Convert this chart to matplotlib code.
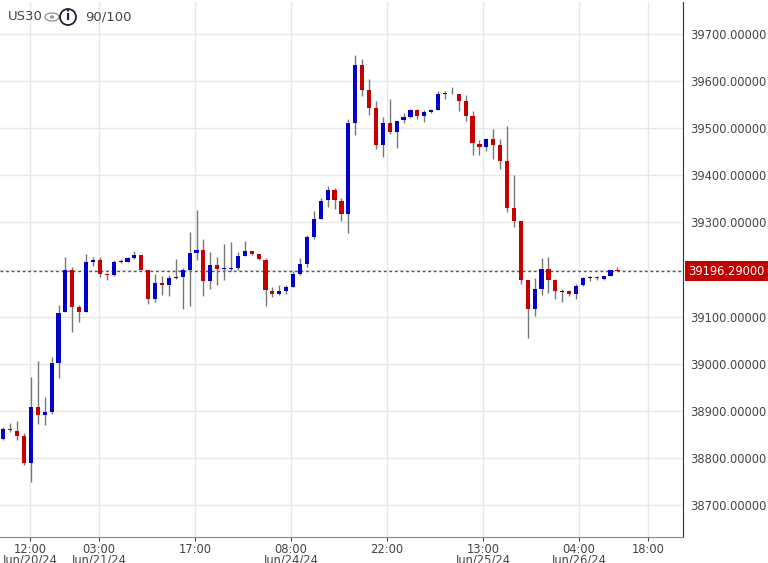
import matplotlib
matplotlib.use("Agg")
import matplotlib.pyplot as plt
from matplotlib.patches import Circle, Ellipse
import numpy as np

opens = [38841,38862,38858,38847,38789,38908,38892,38898,39001,39109,39199,39120,39109,39216,39220,39190,39189,39215,39216,39224,
         39230,39198,39137,39171,39168,39183,39185,39198,39236,39242,39176,39209,39202,39202,39204,39229,39239,39232,39220,39155,
         39148,39155,39163,39191,39211,39270,39308,39347,39368,39345,39318,39512,39635,39581,39542,39465,39511,39491,39518,39523,
         39539,39525,39535,39538,39573,39573,39572,39558,39525,39467,39460,39477,39465,39430,39330,39302,39178,39116,39159,39201,
         39177,39152,39154,39148,39167,39182,39185,39180,39187,39199]
highs = [38865,38875,38879,38853,38972,39006,38930,39014,39125,39227,39205,39124,39233,39226,39227,39192,39220,39222,39226,39239,
         39230,39199,39190,39187,39189,39223,39203,39279,39326,39264,39237,39227,39254,39258,39237,39260,39240,39232,39224,39162,
         39167,39167,39196,39224,39273,39324,39351,39377,39374,39351,39520,39656,39646,39604,39558,39523,39562,39516,39532,39541,
         39541,39539,39541,39578,39578,39588,39572,39571,39537,39476,39480,39499,39477,39504,39401,39302,39178,39182,39224,39227,
         39180,39158,39157,39169,39184,39187,39187,39187,39200,39206]
lows = [38839,38856,38837,38784,38749,38872,38870,38894,38970,39109,39067,39088,39109,39208,39184,39178,39187,39213,39215,39223,
        39198,39127,39130,39146,39143,39180,39117,39122,39220,39143,39158,39167,39178,39196,39199,39229,39231,39220,39122,39141,
        39146,39148,39163,39189,39205,39264,39308,39332,39328,39304,39278,39485,39568,39527,39456,39439,39488,39458,39511,39522,
        39520,39514,39533,39538,39563,39572,39536,39516,39444,39444,39451,39434,39414,39323,39291,39169,39055,39102,39145,39150,
        39137,39132,39143,39138,39164,39175,39178,39177,39186,39196]
closes = [38861,38860,38847,38789,38908,38892,38897,39001,39108,39199,39120,39109,39215,39220,39190,39188,39215,39217,39224,39230,
          39199,39137,39171,39167,39183,39185,39198,39236,39242,39176,39209,39202,39204,39204,39229,39239,39233,39222,39156,39148,
          39154,39162,39191,39211,39269,39308,39346,39368,39347,39318,39511,39635,39582,39543,39465,39511,39491,39516,39523,39539,
          39525,39535,39538,39573,39574,39572,39558,39525,39468,39460,39477,39465,39430,39330,39302,39178,39116,39159,39201,39178,
          39154,39154,39148,39166,39182,39185,39182,39187,39199,39196.29]
last_price = 39196.29
tick_pos = [3.9, 13.9, 27.8, 41.7, 55.6, 69.5, 83.4, 93.4]
tick_labels = ["12:00\nJun/20/24", "03:00\nJun/21/24", "17:00", "08:00\nJun/24/24",
               "22:00", "13:00\nJun/25/24", "04:00\nJun/26/24", "18:00"]
y_ticks = [38700, 38800, 38900, 39000, 39100, 39200, 39300, 39400, 39500, 39600, 39700]

BLUE = "#0000c8"
RED = "#c40000"

fig = plt.figure(figsize=(7.68, 5.63), dpi=100)
ax = fig.add_axes([0.0, 26/563, 683/768, 535/563])
ax.set_xlim(-0.48, 98.5)
ax.set_ylim(38632, 39768)

for i, (o, h, l, c) in enumerate(zip(opens, highs, lows, closes)):
    col = BLUE if c >= o else RED
    ax.vlines(i, l, h, color="#777777", lw=1, zorder=2)
    lo, hi = min(o, c), max(o, c)
    ax.bar(i, max(hi - lo, 1.5), bottom=lo, width=0.6, color=col, zorder=3, linewidth=0)

ax.axhline(last_price, color="#555555", ls=(0, (2, 2)), lw=1, zorder=1)

ax.set_yticks(y_ticks)
ax.set_yticklabels([f"{v:.5f}" for v in y_ticks])
ax.yaxis.tick_right()
ax.set_xticks(tick_pos)
ax.set_xticklabels(tick_labels, linespacing=0.85)
ax.tick_params(axis="both", labelsize=8.3, length=3, width=0.8, colors="#444444")
ax.tick_params(axis="y", length=0, pad=5)
ax.tick_params(axis="x", pad=1)
ax.grid(True, color="#e8e8e8", lw=1)
ax.set_axisbelow(True)
for s in ["top", "left"]:
    ax.spines[s].set_visible(False)
ax.spines["right"].set_color("#333333")
ax.spines["bottom"].set_color("#888888")

ax.text(1.008, last_price, f"{last_price:.5f}", transform=ax.get_yaxis_transform(),
        ha="left", va="center", color="white", fontsize=8.3, zorder=10,
        bbox=dict(boxstyle="square,pad=0.3", fc=RED, ec="none"))

y0 = 1 - 17/563
fig.text(8/768, y0, "US30", fontsize=9.5, color="#444444", va="center")
fig.patches.append(Ellipse((52/768, y0), 14/768, 8/563, transform=fig.transFigure,
                           fill=False, ec="#999999", lw=1))
fig.patches.append(Circle((52/768, y0), 0.003, transform=fig.transFigure, fc="#999999", ec="none"))
fig.patches.append(Ellipse((68/768, y0), 16/768, 16/563, transform=fig.transFigure,
                           fill=False, ec="#222222", lw=1.3))
fig.text(68/768, y0, "i", fontsize=9, fontweight="bold", color="#1a1a60", ha="center", va="center")
fig.text(85/768, y0, "90/100", fontsize=9.5, color="#444444", va="center")

fig.savefig("out.png", dpi=100)
